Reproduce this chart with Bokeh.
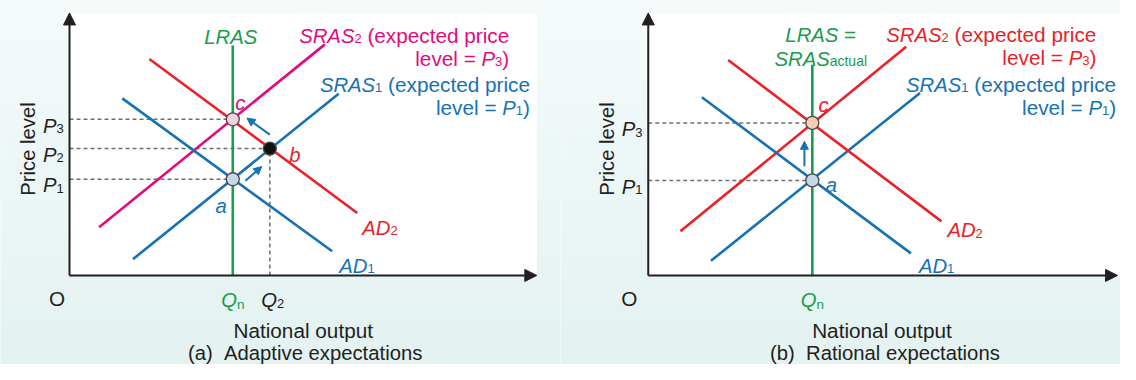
import math
import numpy as np
from bokeh.plotting import figure
from bokeh.layouts import row
from bokeh.models import Range1d, Arrow, NormalHead
from bokeh.embed import file_html
from bokeh.resources import INLINE
from bokeh.core.properties import value

# ---------------- data: panel (a) adaptive expectations ----------------
A_QN, A_Q2 = 4.14, 5.08
A_P1, A_P2, A_P3 = 2.51, 3.31, 4.075
A_LRAS_TOP = 6.0
A_SRAS1_X, A_SRAS1_Y = [1.61, 6.825], [0.425, 4.74]
A_SRAS2_X, A_SRAS2_Y = [0.75, 6.475], [1.26, 6.03]
A_AD1_X, A_AD1_Y = [1.34, 6.66], [4.62, 0.63]
A_AD2_X, A_AD2_Y = [2.025, 7.295], [5.65, 1.63]
A_MOVE1 = [4.46, 2.47, 4.875, 2.84]
A_MOVE2 = [5.08, 3.675, 4.50, 4.105]
A_XMAX, A_YMAX = 11.85, 6.85

# ---------------- data: panel (b) rational expectations ----------------
B_QN = 4.16
B_P1, B_P3 = 2.48, 3.98
B_LRAS_TOP = 5.5
B_SRAS1_X, B_SRAS1_Y = [1.59, 6.89], [0.38, 4.76]
B_SRAS2_X, B_SRAS2_Y = [0.815, 6.54], [1.15, 5.97]
B_AD1_X, B_AD1_Y = [1.36, 6.66], [4.65, 0.575]
B_AD2_X, B_AD2_Y = [2.025, 7.435], [5.62, 1.41]
B_MOVE = [3.96, 2.85, 3.96, 3.50]
B_XMAX, B_YMAX = 11.9, 6.85

# ---------------- styles / layout ----------------
GREEN = "#1a9c4c"
MAGENTA = "#e5097f"
RED = "#e92228"
BLUE = "#1672b3"
BLACK = "#231f20"
DASH = "#6d6e71"
FONT = "Liberation Sans"
S = 40.0                      # diagram unit in reference pixels
REF_W, REF_H = 1136, 380
FIG_W, FIG_H = 560, 364
KX = 2 * FIG_W / REF_W
FK = 0.965                    # font scale from reference px to rendered px
LW = 2.6
NB = "\u00a0"

W = {'S': 667, 'R': 722, 'A': 667, 'L': 556, 'D': 722, 'P': 667, 'Q': 778, 'O': 778, 'N': 722,
     'a': 556, 'b': 556, 'c': 500, 'd': 556, 'e': 556, 'l': 222, 'v': 500, 'x': 500, 'p': 556,
     't': 278, 'i': 222, 'r': 333, 'u': 556, 'n': 556, 'o': 556, 's': 500,
     '(': 333, ')': 333, '=': 584, ' ': 278, NB: 278}
for d in "0123456789":
    W[d] = 556


def tw(s, size):
    # width in reference pixels of a text of reference size `size`
    return sum(W.get(ch, 556) for ch in s) * size * FK / 1000.0 / KX


def make_fig(ox, oy, ref_left, ref_right):
    x0 = (ref_left - ox) / S
    x1 = (ref_right - ox) / S
    y0 = (oy - REF_H) / S
    y1 = oy / S
    p = figure(width=FIG_W, height=FIG_H, x_range=Range1d(x0, x1), y_range=Range1d(y0, y1),
               output_backend="svg", toolbar_location=None, min_border=0,
               x_axis_location=None, y_axis_location=None,
               background_fill_color="#ecf6f6", border_fill_color="#ecf6f6")
    p.grid.grid_line_color = None
    p.outline_line_color = None
    n = 120
    img = np.empty((n, 1), dtype=np.uint32)
    view = img.view(dtype=np.uint8).reshape((n, 1, 4))
    t = np.linspace(0, 1, n)  # 0 bottom -> 1 top
    bot = np.array([228, 242, 242]); top = np.array([245, 251, 251])
    for k in range(3):
        view[:, 0, k] = (bot[k] + (top[k] - bot[k]) * t).astype(np.uint8)
    view[:, 0, 3] = 255
    p.image_rgba(image=[img], x=x0, y=y0, dw=x1 - x0, dh=y1 - y0)
    return p


def conv(ox, oy):
    return (lambda px: (px - ox) / S), (lambda py: (oy - py) / S)


def put_run(p, X, Y, runs, x, y, color, align="left"):
    total = sum(tw(r[0], r[1]) for r in runs)
    if align == "right":
        xs = x - total
    elif align == "center":
        xs = x - total / 2.0
    else:
        xs = x
    for txt, size, style, dy in runs:
        p.text(x=[X(xs)], y=[Y(y + dy)], text=[txt], text_font=value(FONT),
               text_font_size=f"{size * FK:.2f}px", text_font_style=style, text_color=color,
               text_align="left", text_baseline="alphabetic")
        xs += tw(txt, size)


def white_box(p, xmax, ymax):
    p.quad(left=[0], right=[xmax], bottom=[0], top=[ymax], fill_color="white", line_color=None)


def axis_arrows(p, xmax, ymax):
    for xe, ye in ((0, ymax), (xmax, 0)):
        p.add_layout(Arrow(end=NormalHead(size=12, fill_color=BLACK, line_color=BLACK, line_width=1),
                           x_start=0, y_start=0, x_end=xe, y_end=ye,
                           line_color=BLACK, line_width=2))


def move_arrow(p, m):
    p.add_layout(Arrow(end=NormalHead(size=8, fill_color=BLUE, line_color=BLUE, line_width=1),
                       x_start=m[0], y_start=m[1], x_end=m[2], y_end=m[3],
                       line_color=BLUE, line_width=2))


IT, NO = "italic", "normal"


def sras_label(p, X, Y, num, rx, by, color, pnum):
    put_run(p, X, Y, [("SRAS", 21, IT, 0), (num, 13.5, NO, 3), (NB + "(expected price", 21.5, NO, 0)],
            rx, by, color, "right")
    put_run(p, X, Y, [("level =" + NB, 21.5, NO, 0), ("P", 21, IT, 0), (pnum, 13.5, NO, 3), (")", 21.5, NO, 0)],
            rx, by + 24, color, "right")


def p_labels(p, X, Y, ox, oy, plist):
    for val, num in plist:
        py = oy - val * S
        put_run(p, X, Y, [("P", 21, IT, 0), (num, 13.5, NO, 3)], ox - 27, py + 6.5, BLACK)


def price_level(p, X, Y, ox):
    p.text(x=[X(ox - 41.7)], y=[Y(155)], text=["Price level"], angle=math.pi / 2,
           text_font=value(FONT), text_font_size=f"{21 * FK:.2f}px", text_color=BLACK,
           text_align="center", text_baseline="alphabetic")


# ====================== panel (a) ======================
OXA, OYA = 70, 287
pa = make_fig(OXA, OYA, 0, REF_W / 2)
XA, YA = conv(OXA, OYA)
white_box(pa, A_XMAX, A_YMAX)
pa.segment(x0=[0, 0, 0, A_Q2], y0=[A_P3, A_P2, A_P1, 0], x1=[A_QN, A_Q2, A_QN, A_Q2], y1=[A_P3, A_P2, A_P1, A_P2],
           line_color=DASH, line_width=1.5, line_dash="4 3")
pa.line(A_SRAS2_X, A_SRAS2_Y, line_color=MAGENTA, line_width=LW)
pa.line(A_AD1_X, A_AD1_Y, line_color=BLUE, line_width=LW)
pa.line(A_SRAS1_X, A_SRAS1_Y, line_color=BLUE, line_width=LW)
pa.line(A_AD2_X, A_AD2_Y, line_color=RED, line_width=LW)
pa.line([A_QN, A_QN], [0, A_LRAS_TOP], line_color=GREEN, line_width=LW)
axis_arrows(pa, A_XMAX, A_YMAX)
move_arrow(pa, A_MOVE1)
move_arrow(pa, A_MOVE2)
pa.scatter([A_QN, A_Q2, A_QN], [A_P1, A_P2, A_P3], size=13,
           fill_color=["#c6d7e7", "#111111", "#f6d2e1"], line_color="#4a4a4a", line_width=1.3)

put_run(pa, XA, YA, [("LRAS", 21, IT, 0)], 233.6, 38, GREEN, "center")
sras_label(pa, XA, YA, "2", 516, 37, MAGENTA, "3")
sras_label(pa, XA, YA, "1", 537, 88, BLUE, "1")
put_run(pa, XA, YA, [("c", 21, IT, 0)], 238, 107, MAGENTA)
put_run(pa, XA, YA, [("b", 21, IT, 0)], 293, 161.5, RED)
put_run(pa, XA, YA, [("a", 21, IT, 0)], 218, 215, BLUE)
put_run(pa, XA, YA, [("AD", 21, IT, 0), ("2", 13.5, NO, 3)], 367, 237, RED)
put_run(pa, XA, YA, [("AD", 21, IT, 0), ("1", 13.5, NO, 3)], 343.6, 277, BLUE)
put_run(pa, XA, YA, [("O", 21.5, NO, 0)], 57.3, 311, BLACK, "center")
put_run(pa, XA, YA, [("Q", 21, IT, 0), ("n", 14, NO, 4)], OXA + A_QN * S, 313, GREEN, "center")
put_run(pa, XA, YA, [("Q", 21, IT, 0), ("2", 13.5, NO, 3)], OXA + A_Q2 * S + 3, 313, BLACK, "center")
put_run(pa, XA, YA, [("National output", 21.5, NO, 0)], 307, 344, BLACK, "center")
put_run(pa, XA, YA, [("(a)" + NB + NB + "Adaptive expectations", 21, NO, 0)], 309, 368, BLACK, "center")
price_level(pa, XA, YA, OXA)
p_labels(pa, XA, YA, OXA, OYA, [(A_P1, "1"), (A_P2, "2"), (A_P3, "3")])

# ====================== panel (b) ======================
OXB, OYB = 657, 287
pb = make_fig(OXB, OYB, REF_W / 2, REF_W)
XB, YB = conv(OXB, OYB)
white_box(pb, pb.x_range.end, B_YMAX)
pb.segment(x0=[0, 0], y0=[B_P3, B_P1], x1=[B_QN, B_QN], y1=[B_P3, B_P1],
           line_color=DASH, line_width=1.5, line_dash="4 3")
pb.line(B_SRAS2_X, B_SRAS2_Y, line_color=RED, line_width=LW)
pb.line(B_AD1_X, B_AD1_Y, line_color=BLUE, line_width=LW)
pb.line(B_SRAS1_X, B_SRAS1_Y, line_color=BLUE, line_width=LW)
pb.line(B_AD2_X, B_AD2_Y, line_color=RED, line_width=LW)
pb.line([B_QN, B_QN], [0, B_LRAS_TOP], line_color=GREEN, line_width=LW)
axis_arrows(pb, B_XMAX, B_YMAX)
move_arrow(pb, B_MOVE)
pb.scatter([B_QN, B_QN], [B_P1, B_P3], size=13,
           fill_color=["#c6d7e7", "#f8cdb5"], line_color="#4a4a4a", line_width=1.3)

put_run(pb, XB, YB, [("LRAS", 21, IT, 0), (NB + "=", 21.5, NO, 0)], 832, 36, GREEN, "center")
put_run(pb, XB, YB, [("SRAS", 21, IT, 0), ("actual", 14.5, NO, 2)], 832, 61.5, GREEN, "center")
sras_label(pb, XB, YB, "2", 1111.5, 36, RED, "3")
sras_label(pb, XB, YB, "1", 1131.5, 88, BLUE, "1")
put_run(pb, XB, YB, [("c", 21, IT, 0)], 829.6, 109, RED)
put_run(pb, XB, YB, [("a", 21, IT, 0)], 837, 193, BLUE)
put_run(pb, XB, YB, [("AD", 21, IT, 0), ("2", 13.5, NO, 3)], 960.5, 240, RED)
put_run(pb, XB, YB, [("AD", 21, IT, 0), ("1", 13.5, NO, 3)], 931.5, 277, BLUE)
put_run(pb, XB, YB, [("O", 21.5, NO, 0)], 637.75, 311, BLACK, "center")
put_run(pb, XB, YB, [("Q", 21, IT, 0), ("n", 14, NO, 4)], OXB + B_QN * S, 313, GREEN, "center")
put_run(pb, XB, YB, [("National output", 21.5, NO, 0)], 894, 344, BLACK, "center")
put_run(pb, XB, YB, [("(b)" + NB + NB + "Rational expectations", 21, NO, 0)], 897, 368, BLACK, "center")
price_level(pb, XB, YB, OXB)
p_labels(pb, XB, YB, OXB, OYB, [(B_P1, "1"), (B_P3, "3")])

layout = row(pa, pb)
open("out.html", "w").write(file_html(layout, INLINE))
